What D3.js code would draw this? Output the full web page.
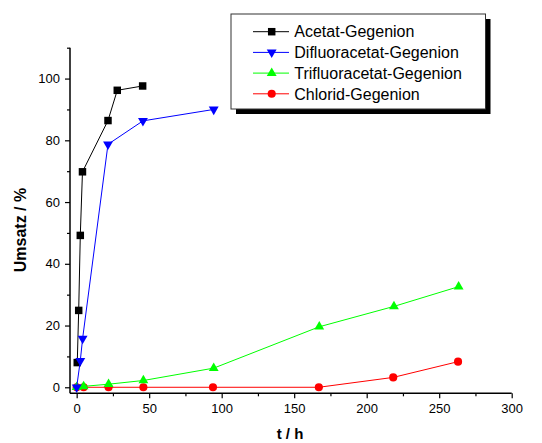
<!DOCTYPE html>
<html><head><meta charset="utf-8">
<script src="https://cdn.jsdelivr.net/npm/d3@7"></script>
<style>body{margin:0;background:#fff}svg{display:block}text{font-family:"Liberation Sans",Arial,sans-serif}</style>
</head><body><div id="c"></div>
<script>
const xTicks = [0, 50, 100, 150, 200, 250, 300];
const yTicks = [0, 20, 40, 60, 80, 100];
const acetatT = [0.4, 1.4, 2.5, 4, 21.6, 28, 45.5];
const acetatU = [8, 24.9, 49.2, 69.8, 86.4, 96.2, 97.6];
const difluorT = [0, 2.5, 4.1, 21.6, 45.7, 94.5];
const difluorU = [0, 8.6, 15.8, 78.7, 86.3, 90];
const trifluorT = [0, 4.8, 22, 46, 94.5, 167.3, 218.8, 263.4];
const trifluorU = [0, 0.3, 1, 2.2, 6.2, 19.6, 26.2, 32.6];
const chloridT = [0, 4.8, 22, 46, 94, 167, 218.3, 263];
const chloridU = [0, 0, 0, 0, 0, 0, 3.2, 8.3];
const seriesNames = ["Acetat-Gegenion", "Difluoracetat-Gegenion", "Trifluoracetat-Gegenion", "Chlorid-Gegenion"];

const W = 542, H = 443;
const svg = d3.select("#c").append("svg").attr("width", W).attr("height", H);
const x = d3.scaleLinear().domain([-4.6, 300]).range([70, 511.7]);
const y = d3.scaleLinear().domain([-1.95, 110]).range([393.3, 47.7]);

const series = [
  {name: seriesNames[3], t: chloridT, u: chloridU, color: "#ff0000", sym: d3.symbolCircle, size: 52, rot: 0},
  {name: seriesNames[2], t: trifluorT, u: trifluorU, color: "#00ff00", sym: d3.symbolTriangle, size: 42, rot: 0},
  {name: seriesNames[0], t: acetatT, u: acetatU, color: "#000000", sym: d3.symbolSquare, size: 56, rot: 0},
  {name: seriesNames[1], t: difluorT, u: difluorU, color: "#0000ff", sym: d3.symbolTriangle, size: 42, rot: 180}
];

// axes
const xMinor = d3.range(25, 300, 50);
const yMinor = d3.range(10, 111, 20);
const g = svg.append("g");
g.append("line").attr("x1", 70).attr("x2", 511.7).attr("y1", 393.3).attr("y2", 393.3).attr("stroke", "#000").attr("stroke-width", 1.5);
g.append("line").attr("x1", 70).attr("x2", 70).attr("y1", 393.3).attr("y2", 47.7).attr("stroke", "#000").attr("stroke-width", 1.5);

const xAxis = d3.axisBottom(x).tickValues(xTicks).tickSize(5).tickPadding(5);
const gx = svg.append("g").attr("transform", "translate(0,393.3)").call(xAxis);
gx.select(".domain").remove();
gx.selectAll("line").attr("stroke-width", 1.2);
gx.selectAll("text").attr("font-size", 13).attr("fill", "#000");
const gxm = svg.append("g").attr("transform", "translate(0,393.3)").call(d3.axisBottom(x).tickValues(xMinor).tickSize(3).tickFormat(""));
gxm.select(".domain").remove();
gxm.selectAll("line").attr("stroke-width", 1.2);

const yAxis = d3.axisLeft(y).tickValues(yTicks).tickSize(5).tickPadding(5);
const gy = svg.append("g").attr("transform", "translate(70,0)").call(yAxis);
gy.select(".domain").remove();
gy.selectAll("line").attr("stroke-width", 1.2);
gy.selectAll("text").attr("font-size", 13).attr("fill", "#000");
const gym = svg.append("g").attr("transform", "translate(70,0)").call(d3.axisLeft(y).tickValues(yMinor).tickSize(3).tickFormat(""));
gym.select(".domain").remove();
gym.selectAll("line").attr("stroke-width", 1.2);

// titles
svg.append("text").attr("x", 290).attr("y", 439).attr("text-anchor", "middle").attr("font-size", 15).attr("font-weight", "bold").text("t / h");
svg.append("text").attr("transform", "translate(26,230) rotate(-90)").attr("text-anchor", "middle").attr("font-size", 16).attr("font-weight", "bold").text("Umsatz / %");

// series
const line = d3.line();
series.forEach(s => {
  const pts = s.t.map((t, i) => [x(t), y(s.u[i])]);
  svg.append("path").attr("d", line(pts)).attr("fill", "none").attr("stroke", s.color).attr("stroke-width", 1);
  svg.append("g").selectAll("path").data(pts).join("path")
    .attr("d", d3.symbol(s.sym, s.size))
    .attr("transform", d => `translate(${d[0]},${d[1]}) rotate(${s.rot})`)
    .attr("fill", s.color);
});

// legend
const lg = svg.append("g");
lg.append("rect").attr("x", 236).attr("y", 19).attr("width", 254.5).attr("height", 95).attr("fill", "#000");
lg.append("rect").attr("x", 231).attr("y", 14).attr("width", 254.5).attr("height", 95).attr("fill", "#fff").attr("stroke", "#333").attr("stroke-width", 1);
const legendOrder = [series[2], series[3], series[1], series[0]];
legendOrder.forEach((s, i) => {
  const yy = 31.7 + i * 20.7;
  lg.append("line").attr("x1", 253).attr("x2", 289).attr("y1", yy).attr("y2", yy).attr("stroke", s.color).attr("stroke-width", 1);
  lg.append("path").attr("d", d3.symbol(s.sym, s.size)).attr("transform", `translate(271.7,${yy}) rotate(${s.rot})`).attr("fill", s.color);
  lg.append("text").attr("x", 294.3).attr("y", yy + 5.7).attr("font-size", 16).text(s.name);
});
</script></body></html>
